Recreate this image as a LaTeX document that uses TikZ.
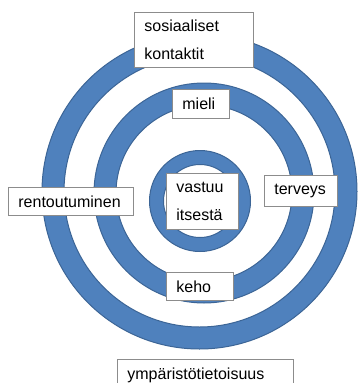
\documentclass[tikz,border=0pt]{standalone}
\usepackage{fontspec}
\setmainfont{Liberation Sans}
\definecolor{ringblue}{HTML}{4F81BD}
\definecolor{ringedge}{HTML}{3C6596}
\definecolor{boxedge}{HTML}{8C8C8C}

\begin{document}
\begin{tikzpicture}[x=1pt,y=-1pt,
	ring/.style={fill=ringblue,draw=ringedge,line width=1pt,even odd rule},
	lbl/.style={draw=boxedge,fill=white,line width=0.8pt,anchor=north west,
		inner xsep=10pt,inner ysep=0pt,align=left,
		font=\fontsize{16}{28}\selectfont}]
				\clip (0,0) rectangle (358,383);

				% rings
				\filldraw [ring] (199.5,191.5) circle [radius=157.5pt] circle [radius=135.5pt];
				\filldraw [ring] (204,193) circle [radius=110pt] circle [radius=88pt];
				\filldraw [ring] (200,201) circle [radius=50.5pt] circle [radius=36.5pt];

				% labels
				\node [lbl,text width=99pt,minimum height=55pt] (sosiaaliset) at (134,12) {sosiaaliset\\kontaktit};
				\node [lbl,text width=37pt,minimum height=29pt] (mieli) at (172,89) {mieli};
				\node [lbl,text width=105pt,minimum height=28pt] (rentoutuminen) at (8,187) {rentoutuminen};
				\node [lbl,text width=52pt,minimum height=56pt] (vastuu) at (166,173) {vastuu\\itsestä};
				\node [lbl,text width=53pt,minimum height=31pt] (terveys) at (264,175) {terveys};
				\node [lbl,text width=47pt,minimum height=28pt] (keho) at (166,272) {keho};
				\node [lbl,text width=156pt,minimum height=31pt] (ymparisto) at (117,359) {ympäristötietoisuus};
			\end{tikzpicture}
\end{document}
